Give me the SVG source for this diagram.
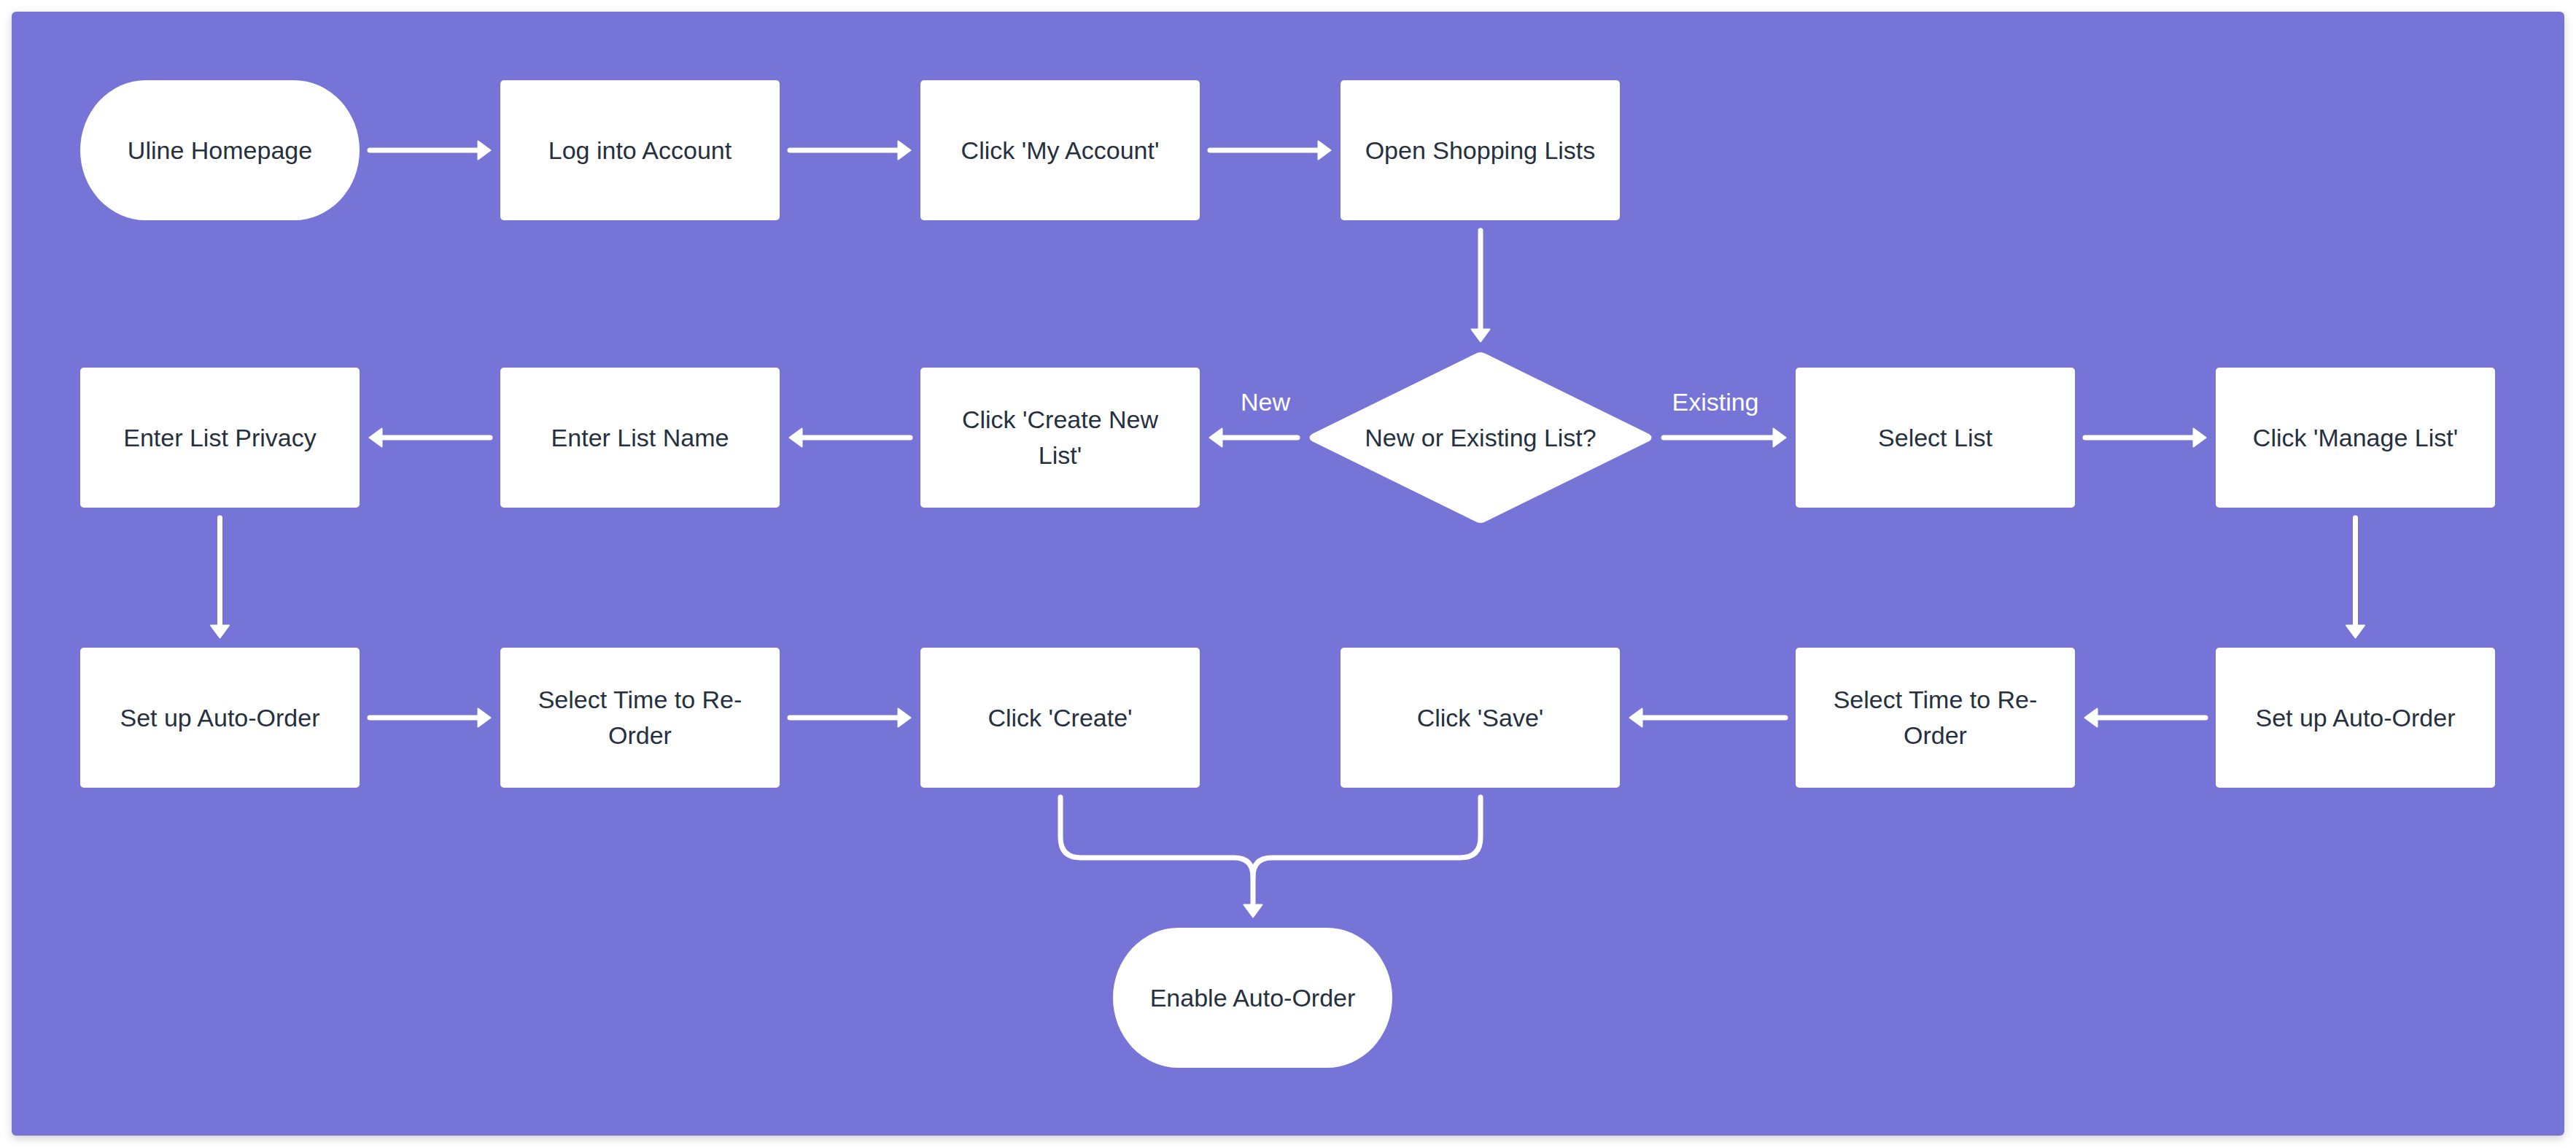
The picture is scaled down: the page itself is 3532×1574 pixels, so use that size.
<svg xmlns="http://www.w3.org/2000/svg" width="3532" height="1574" viewBox="0 0 3532 1574">
<defs>
<filter id="shadow" x="-5%" y="-5%" width="110%" height="110%">
<feDropShadow dx="0" dy="4" stdDeviation="6" flood-color="#000" flood-opacity="0.18"/>
</filter>
<marker id="ah" viewBox="0 0 20 28" markerWidth="20" markerHeight="28" refX="6" refY="14" orient="auto" markerUnits="userSpaceOnUse">
<path d="M1.5,1.5 L18.5,14 L1.5,26.5 Z" fill="#fff" stroke="#fff" stroke-width="2" stroke-linejoin="round"/>
</marker>
<style>
.box{fill:#fff;}
.t{font-family:"Liberation Sans",Arial,sans-serif;font-size:34px;fill:#26313F;text-anchor:middle;}
.lbl{font-family:"Liberation Sans",Arial,sans-serif;font-size:34px;fill:#fff;text-anchor:middle;}
.c{fill:none;stroke:#fff;stroke-width:7;stroke-linecap:round;stroke-linejoin:round;}
</style>
</defs>
<rect x="0" y="0" width="3532" height="1574" fill="#fff"/>
<rect x="16" y="16" width="3500" height="1541" rx="6" fill="#7675D7" filter="url(#shadow)"/>

<g id="connectors">
<path class="c" d="M507,206 H660" marker-end="url(#ah)"/>
<path class="c" d="M1083,206 H1236" marker-end="url(#ah)"/>
<path class="c" d="M1659,206 H1812" marker-end="url(#ah)"/>
<path class="c" d="M2030,316 V456" marker-end="url(#ah)"/>
<path class="c" d="M1779,600 H1671" marker-end="url(#ah)"/>
<path class="c" d="M1248,600 H1095" marker-end="url(#ah)"/>
<path class="c" d="M672,600 H519" marker-end="url(#ah)"/>
<path class="c" d="M2281,600 H2436" marker-end="url(#ah)"/>
<path class="c" d="M2859,600 H3012" marker-end="url(#ah)"/>
<path class="c" d="M301.5,710 V862" marker-end="url(#ah)"/>
<path class="c" d="M3229.5,710 V862" marker-end="url(#ah)"/>
<path class="c" d="M507,984 H660" marker-end="url(#ah)"/>
<path class="c" d="M1083,984 H1236" marker-end="url(#ah)"/>
<path class="c" d="M3024,984 H2871" marker-end="url(#ah)"/>
<path class="c" d="M2448,984 H2247" marker-end="url(#ah)"/>
<path class="c" d="M1454,1093 V1148 Q1454,1176 1482,1176 H1692 Q1718,1176 1718,1202"/>
<path class="c" d="M2030,1093 V1148 Q2030,1176 2002,1176 H1744 Q1718,1176 1718,1202 V1245" marker-end="url(#ah)"/>
<text class="lbl" x="1735" y="563">New</text>
<text class="lbl" x="2352" y="563">Existing</text>
</g>

<g id="uline-homepage"><rect class="box" x="110" y="110" width="383" height="192" rx="90" ry="96"/><text class="t" x="301.5" y="218">Uline Homepage</text></g>
<g id="log-into-account"><rect class="box" x="686" y="110" width="383" height="192" rx="5"/><text class="t" x="877.5" y="218">Log into Account</text></g>
<g id="click-my-account"><rect class="box" x="1262" y="110" width="383" height="192" rx="5"/><text class="t" x="1453.5" y="218">Click 'My Account'</text></g>
<g id="open-shopping-lists"><rect class="box" x="1838" y="110" width="383" height="192" rx="5"/><text class="t" x="2029.5" y="218">Open Shopping Lists</text></g>

<g id="enter-list-privacy"><rect class="box" x="110" y="504" width="383" height="192" rx="5"/><text class="t" x="301.5" y="612">Enter List Privacy</text></g>
<g id="enter-list-name"><rect class="box" x="686" y="504" width="383" height="192" rx="5"/><text class="t" x="877.5" y="612">Enter List Name</text></g>
<g id="click-create-new-list"><rect class="box" x="1262" y="504" width="383" height="192" rx="5"/><text class="t" x="1453.5" y="587">Click 'Create New</text><text class="t" x="1453.5" y="636">List'</text></g>
<g id="new-or-existing"><path class="box" d="M2023,485 Q2030,481 2037,485 L2261,595 Q2268,600 2261,605 L2037,715 Q2030,719 2023,715 L1799,605 Q1792,600 1799,595 Z"/><text class="t" x="2030" y="612">New or Existing List?</text></g>
<g id="select-list"><rect class="box" x="2462" y="504" width="383" height="192" rx="5"/><text class="t" x="2653.5" y="612">Select List</text></g>
<g id="click-manage-list"><rect class="box" x="3038" y="504" width="383" height="192" rx="5"/><text class="t" x="3229.5" y="612">Click 'Manage List'</text></g>

<g id="set-up-auto-order-1"><rect class="box" x="110" y="888" width="383" height="192" rx="5"/><text class="t" x="301.5" y="996">Set up Auto-Order</text></g>
<g id="select-time-1"><rect class="box" x="686" y="888" width="383" height="192" rx="5"/><text class="t" x="877.5" y="971">Select Time to Re-</text><text class="t" x="877.5" y="1020">Order</text></g>
<g id="click-create"><rect class="box" x="1262" y="888" width="383" height="192" rx="5"/><text class="t" x="1453.5" y="996">Click 'Create'</text></g>
<g id="click-save"><rect class="box" x="1838" y="888" width="383" height="192" rx="5"/><text class="t" x="2029.5" y="996">Click 'Save'</text></g>
<g id="select-time-2"><rect class="box" x="2462" y="888" width="383" height="192" rx="5"/><text class="t" x="2653.5" y="971">Select Time to Re-</text><text class="t" x="2653.5" y="1020">Order</text></g>
<g id="set-up-auto-order-2"><rect class="box" x="3038" y="888" width="383" height="192" rx="5"/><text class="t" x="3229.5" y="996">Set up Auto-Order</text></g>

<g id="enable-auto-order"><rect class="box" x="1526" y="1272" width="383" height="192" rx="90" ry="96"/><text class="t" x="1717.5" y="1380">Enable Auto-Order</text></g>
</svg>
